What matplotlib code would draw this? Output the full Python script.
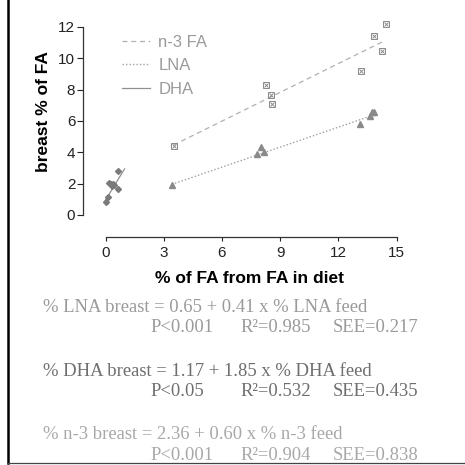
import matplotlib.pyplot as plt
from matplotlib.lines import Line2D

# points
lna_x = [3.41, 7.79, 8.03, 8.18, 13.11, 13.63, 13.73, 13.83]
lna_y = [1.89, 3.91, 4.32, 4.04, 5.79, 6.34, 6.55, 6.55]
dha_x = [0.03, 0.12, 0.20, 0.26, 0.32, 0.38, 0.45, 0.63, 0.65]
dha_y = [0.81, 1.15, 2.06, 1.95, 1.85, 2.00, 1.90, 2.80, 1.64]
n3_x = [3.51, 8.27, 8.51, 8.59, 13.18, 13.83, 14.24, 14.47]
n3_y = [4.42, 8.28, 7.66, 7.08, 9.17, 11.44, 10.47, 12.19]

# regression line end points
lna_fit_x = [3.41, 13.75]
lna_fit_y = [1.95, 6.35]
dha_fit_x = [-0.05, 0.98]
dha_fit_y = [0.85, 2.94]
n3_fit_x = [3.50, 14.35]
n3_fit_y = [4.46, 11.10]

eq_lines = [
    ('% LNA breast = 0.65 + 0.41 x % LNA feed', 'P<0.001', 'R²=0.985', 'SEE=0.217', '#9a9a9a'),
    ('% DHA breast = 1.17 + 1.85 x % DHA feed', 'P<0.05', 'R²=0.532', 'SEE=0.435', '#6e6e6e'),
    ('% n-3 breast = 2.36 + 0.60 x % n-3 feed', 'P<0.001', 'R²=0.904', 'SEE=0.838', '#a8a8a8'),
]

plt.rcParams['font.family'] = ['Liberation Sans', 'DejaVu Sans']

W = 465
fig = plt.figure(figsize=(4.65, 4.65), dpi=100)
ax = fig.add_axes([83 / W, (W - 237) / W, 337 / W, 217 / W])

mk = '#8a8a8a'
ax.plot(n3_fit_x, n3_fit_y, ls=(0, (4, 3)), color='#b0b0b0', lw=0.9, label='n-3 FA')
ax.plot(lna_fit_x, lna_fit_y, ls=(0, (1, 1.5)), color='#a0a0a0', lw=1.0, label='LNA')
ax.plot(dha_fit_x, dha_fit_y, ls='-', color='#909090', lw=0.9, label='DHA')

ax.plot(n3_x, n3_y, 's', ms=4.2, mfc='none', mec=mk, mew=0.7)
ax.plot(n3_x, n3_y, 'x', ms=3.2, color=mk, mew=0.7)
ax.plot(lna_x, lna_y, '^', ms=4.8, color=mk)
ax.plot(dha_x, dha_y, 'D', ms=3.0, color='#7a7a7a')

ax.set_xlim(-1.16, 16.21)
ax.set_ylim(-1.404, 12.444)
ax.spines['top'].set_visible(False)
ax.spines['right'].set_visible(False)
ax.spines['left'].set_bounds(0, 12)
ax.spines['bottom'].set_bounds(0, 15)
for s in ['left', 'bottom']:
    ax.spines[s].set_linewidth(0.9)
    ax.spines[s].set_color('#333333')

ax.set_xticks([0, 3, 6, 9, 12, 15])
ax.set_yticks([0, 2, 4, 6, 8, 10, 12])
ax.tick_params(axis='y', length=4, width=0.8, pad=1.5, labelsize=11, colors='#222222')
ax.tick_params(axis='x', length=3, width=0.8, pad=3.5, labelsize=11, colors='#222222')

ax.set_ylabel('breast % of FA', fontsize=12.5, fontweight='bold')
ax.yaxis.set_label_coords(-0.095, 0.576)
ax.set_xlabel('% of FA from FA in diet', fontsize=12.5, fontweight='bold')
ax.xaxis.set_label_coords(0.494, -0.155)

leg = ax.legend(loc='upper left', bbox_to_anchor=(0.07, 1.0), frameon=False,
                fontsize=12, handlelength=1.7, handletextpad=0.5, labelspacing=0.5)
for t in leg.get_texts():
    t.set_color('#9a9a9a')

# equations under the chart
base_y = [311.7, 375.7, 439.3]
for (eq, p, r2, see, col), by in zip(eq_lines, base_y):
    y1 = 1 - by / W
    y2 = 1 - (by + 20.5) / W
    kw = dict(family=['Liberation Serif', 'DejaVu Serif'], fontsize=13.4, color=col, va='baseline')
    fig.text(43 / W, y1, eq, **kw)
    fig.text(150 / W, y2, p, **kw)
    fig.text(240 / W, y2, r2, **kw)
    fig.text(333 / W, y2, see, **kw)

# page frame bits
fig.add_artist(Line2D([8 / W, 8 / W], [1 - 463 / W, 1], color='black', lw=1.8))
fig.add_artist(Line2D([8 / W, 1], [1 - 463 / W, 1 - 463 / W], color='#444444', lw=0.9))

fig.savefig('out.png', dpi=100)
